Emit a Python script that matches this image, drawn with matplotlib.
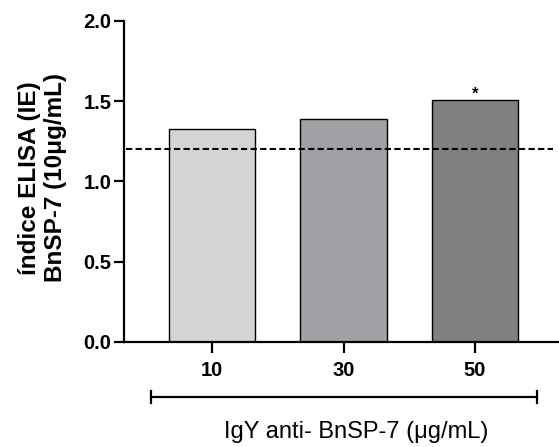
import matplotlib
matplotlib.use("Agg")
import matplotlib.pyplot as plt
import matplotlib.transforms as mtransforms

# data
categories = ["10", "30", "50"]
values = [1.325, 1.39, 1.508]
bar_colors = ["#d4d4d4", "#a1a0a4", "#808080"]
cutoff = 1.2
signif = ["", "", "*"]

plt.rcParams["font.family"] = ["Liberation Sans", "DejaVu Sans"]

fig = plt.figure(figsize=(5.59, 4.47), dpi=100)
ax = fig.add_axes([0.2218, 0.235, 0.776, 0.7187])

x = list(range(len(categories)))
ax.bar(x, values, width=0.655, color=bar_colors, edgecolor="black", linewidth=1.0, zorder=2)
ax.axhline(cutoff, xmin=0.005, xmax=0.99, color="black", lw=1.5,
           linestyle=(0, (3, 1.6)), zorder=3)

for xi, v, s in zip(x, values, signif):
    if s:
        ax.text(xi, v - 0.01, s, ha="center", va="bottom", fontsize=12, fontweight="bold")

ax.set_xlim(-0.67, 2.63)
ax.set_ylim(0, 2.0)
ax.set_yticks([0.0, 0.5, 1.0, 1.5, 2.0])
ax.set_yticklabels(["0.0", "0.5", "1.0", "1.5", "2.0"])
ax.set_xticks(x)
ax.set_xticklabels(categories)

for sp in ["top", "right"]:
    ax.spines[sp].set_visible(False)
for sp in ["left", "bottom"]:
    ax.spines[sp].set_linewidth(1.6)

ax.tick_params(axis="y", direction="out", length=7, width=1.6, labelsize=14.5, pad=2)
ax.tick_params(axis="x", direction="out", length=8, width=1.6, labelsize=14.5, pad=6)
for lab in ax.get_xticklabels() + ax.get_yticklabels():
    lab.set_fontweight("bold")

fig.text(0.076, 0.602, "índice ELISA (IE)\nBnSP-7 (10μg/mL)", rotation=90,
         ha="center", va="center", multialignment="center",
         fontsize=17.5, fontweight="bold", linespacing=1.15)

# group bracket under the ticks
trans = mtransforms.blended_transform_factory(ax.transData, ax.transAxes)
bx0, bx1, by = -0.465, 2.47, -0.171
ax.plot([bx0, bx1], [by, by], color="black", lw=1.6, transform=trans, clip_on=False)
for bx in (bx0, bx1):
    ax.plot([bx, bx], [by - 0.018, by + 0.018], color="black", lw=1.6,
            transform=trans, clip_on=False)

ax.text(1.1, -0.28, "IgY anti- BnSP-7 (μg/mL)", transform=trans, ha="center",
        va="center", fontsize=17)

fig.savefig("out.png", dpi=100)
